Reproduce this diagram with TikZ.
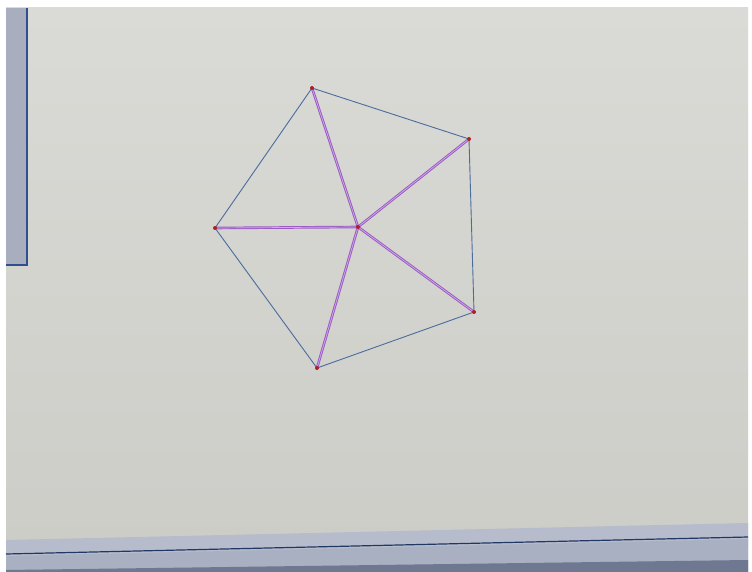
\documentclass[tikz,border=0pt]{standalone}
\usetikzlibrary{calc}

\begin{document}
\begin{tikzpicture}[x=1pt, y=-1pt]
    \definecolor{screenColour}{HTML}{CDCDC8}
    \definecolor{screenTop}{HTML}{DADAD6}
    \definecolor{panelColour}{HTML}{A8AEBD}
    \definecolor{panelBorder}{HTML}{2F4F8F}
    \definecolor{barColour}{HTML}{A9B0C2}
    \definecolor{taskColour}{HTML}{6E7890}
    \definecolor{edgeColour}{HTML}{4B6C9C}
    \definecolor{spokeColour}{HTML}{9B5AC6}
    \definecolor{dotColour}{HTML}{B02020}

    \tikzset{
        edge/.style={draw=edgeColour, line width=0.9pt},
        spoke/.style={draw=spokeColour, line width=2.6pt, line cap=round},
        spokeCore/.style={draw=spokeColour!50!white, line width=0.7pt},
        vdot/.style={circle, fill=dotColour, inner sep=0pt, minimum size=4pt}
    }

    % Frame of the photo
    \useasboundingbox (0,0) rectangle (752,572);
    \fill[white] (0,0) rectangle (752,572);

    % Screen area
    \shade[top color=screenTop, bottom color=screenColour] (6,8) rectangle (748,545);

    % Left tool panel
    \fill[panelColour] (6,8) rectangle (27,265);
    \draw[panelBorder, line width=1.2pt] (27,8) -- (27,265) -- (6,265);

    % Bottom bar, tilted in the photo
    \fill[barColour!85!white] (6,540) -- (748,523) -- (748,572) -- (6,572) -- cycle;
    \draw[panelBorder!70!black, line width=1.2pt] (6,554) -- (748,537);
    \fill[barColour] (6,556) -- (748,539) -- (748,572) -- (6,572) -- cycle;
    \fill[taskColour] (6,570) -- (748,560) -- (748,572) -- (6,572) -- cycle;

    % Vertices of the pentagon and its centre
    \coordinate (A) at (312,88);
    \coordinate (B) at (469,139);
    \coordinate (C) at (474,312);
    \coordinate (D) at (317,368);
    \coordinate (E) at (215,228);
    \coordinate (O) at (358,227);

    % Draw the pentagon
    \draw[edge] (A) -- (B) -- (C) -- (D) -- (E) -- cycle;

    % Draw the spokes from the centre
    \foreach \v in {A,B,C,D,E} {
        \draw[spoke] (O) -- (\v);
        \draw[spokeCore] (O) -- (\v);
    }

    % Mark the points
    \foreach \v in {A,B,C,D,E,O}
        \node[vdot] (dot\v) at (\v) {};

\end{tikzpicture}
\end{document}
